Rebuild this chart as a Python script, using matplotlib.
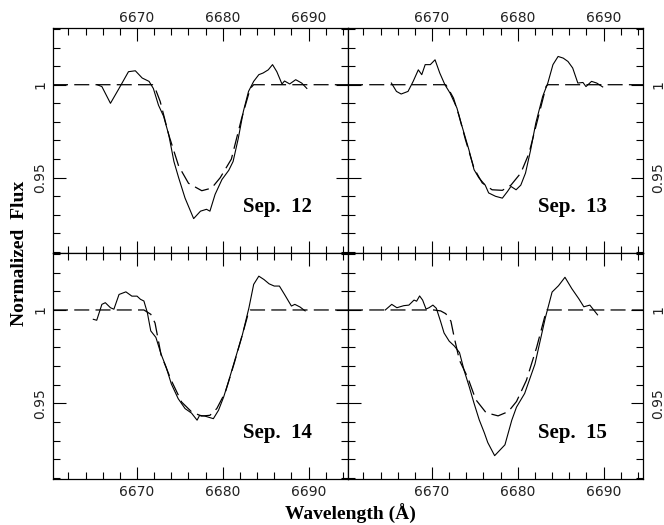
import matplotlib
matplotlib.use('Agg')
import matplotlib.pyplot as plt
from matplotlib.ticker import FixedLocator, MultipleLocator, FuncFormatter

# ---------------- data ----------------
dates = ['Sep.  12', 'Sep.  13', 'Sep.  14', 'Sep.  15']

obs12_w = [6665.35, 6665.9, 6666.9, 6667.9, 6669.0, 6669.8, 6670.6, 6671.4, 6671.9, 6672.5,
           6673.1, 6673.7, 6674.3, 6674.85, 6675.6, 6676.6, 6677.4, 6678.1, 6678.5, 6679.1,
           6679.9, 6680.7, 6681.2, 6681.8, 6682.4, 6683.0, 6683.6, 6684.2, 6684.7, 6685.3,
           6685.8, 6686.3, 6686.9, 6687.2, 6687.8, 6688.5, 6689.2, 6689.8]
obs12_f = [1.000, 0.999, 0.990, 0.998, 1.007, 1.0075, 1.0036, 1.0018, 0.998, 0.989,
           0.983, 0.973, 0.9587, 0.950, 0.939, 0.928, 0.932, 0.933, 0.932, 0.941,
           0.949, 0.954, 0.9587, 0.971, 0.9857, 0.9964, 1.0018, 1.0054, 1.0063, 1.008,
           1.0108, 1.007, 1.0004, 1.002, 1.0004, 1.0027, 1.0009, 0.998]
fit12_w = [6660.2, 6671.8, 6672.2, 6672.7, 6673.7, 6674.85, 6676.0, 6677.55, 6678.7, 6679.7,
           6681.0, 6682.2, 6683.2, 6683.6, 6694.6]
fit12_f = [1.0, 1.0, 0.997, 0.991, 0.973, 0.9563, 0.947, 0.943, 0.9444, 0.950,
           0.960, 0.982, 0.998, 1.0, 1.0]

obs13_w = [6665.26, 6665.85, 6666.4, 6667.2, 6667.8, 6668.4, 6668.8, 6669.2, 6669.8, 6670.35,
           6670.9, 6671.5, 6672.1, 6672.9, 6673.5, 6674.3, 6674.9, 6675.45, 6676.2, 6676.6,
           6677.4, 6678.2, 6678.8, 6679.2, 6679.8, 6680.35, 6680.9, 6681.5, 6682.1, 6682.9,
           6683.5, 6684.1, 6684.7, 6685.3, 6685.85, 6686.4, 6687.0, 6687.6, 6687.95, 6688.6,
           6689.2, 6689.9]
obs13_f = [1.0009, 0.9964, 0.995, 0.9964, 1.0018, 1.008, 1.0054, 1.0108, 1.0108, 1.0134,
           1.0063, 1.000, 0.9955, 0.9875, 0.9776, 0.965, 0.9543, 0.950, 0.946, 0.9418,
           0.940, 0.939, 0.9426, 0.9453, 0.9435, 0.946, 0.9525, 0.965, 0.9794, 0.9937,
           1.0009, 1.0108, 1.0152, 1.0143, 1.0125, 1.009, 1.0009, 1.0012, 0.999, 1.0018,
           1.0009, 0.9988]
fit13_w = [6660.2, 6671.6, 6672.0, 6672.5, 6673.1, 6673.9, 6674.9, 6675.85, 6677.0, 6678.2,
           6679.2, 6680.35, 6681.3, 6682.3, 6683.3, 6683.5, 6694.6]
fit13_f = [1.0, 1.0, 0.997, 0.9928, 0.984, 0.9704, 0.955, 0.9472, 0.9435, 0.9432,
           0.946, 0.9525, 0.963, 0.981, 0.9991, 1.0, 1.0]

obs14_w = [6664.9, 6665.3, 6665.9, 6666.3, 6666.9, 6667.3, 6667.9, 6668.7, 6669.4, 6670.0,
           6670.4, 6670.8, 6671.2, 6671.6, 6672.2, 6672.8, 6673.4, 6674.0, 6674.8, 6675.6,
           6676.35, 6677.0, 6677.3, 6677.9, 6678.9, 6679.5, 6680.1, 6680.7, 6681.5, 6682.3,
           6683.05, 6683.6, 6684.2, 6684.8, 6685.4, 6686.0, 6686.6, 6687.2, 6688.0, 6688.4,
           6689.0, 6689.6]
obs14_f = [0.995, 0.9945, 1.003, 1.0039, 1.0012, 1.0004, 1.0083, 1.0097, 1.0074, 1.0074,
           1.0057, 1.0048, 0.9986, 0.9888, 0.9853, 0.9764, 0.9693, 0.9604, 0.9525, 0.9472,
           0.9448, 0.941, 0.9436, 0.9432, 0.9418, 0.9463, 0.9534, 0.9622, 0.9746, 0.987,
           1.0012, 1.0137, 1.0181, 1.0163, 1.014, 1.0128, 1.0128, 1.0083, 1.0021, 1.003,
           1.0016, 0.9995]
fit14_w = [6660.2, 6670.8, 6671.6, 6672.1, 6672.8, 6674.0, 6675.2, 6676.35, 6677.5, 6678.5,
           6679.3, 6680.3, 6681.3, 6682.3, 6683.05, 6683.2, 6694.6]
fit14_f = [1.0, 1.0, 0.9977, 0.993, 0.976, 0.9622, 0.9507, 0.9455, 0.9432, 0.9436,
           0.9472, 0.956, 0.971, 0.987, 0.9995, 1.0, 1.0]

obs15_w = [6664.55, 6665.3, 6665.9, 6666.7, 6667.3, 6667.9, 6668.2, 6668.55, 6668.9, 6669.3,
           6669.65, 6670.1, 6670.5, 6671.0, 6671.4, 6672.0, 6672.6, 6673.2, 6673.75, 6674.35,
           6674.9, 6675.5, 6676.1, 6676.5, 6677.3, 6678.5, 6679.3, 6679.85, 6680.8, 6682.0,
           6683.2, 6684.0, 6684.75, 6685.5, 6686.3, 6687.1, 6687.7, 6688.4, 6689.3]
obs15_f = [1.0, 1.003, 1.0012, 1.0023, 1.0026, 1.0053, 1.0047, 1.0075, 1.0053, 1.0005,
           1.0012, 1.0026, 1.0009, 0.9938, 0.9877, 0.9833, 0.9807, 0.9772, 0.9675, 0.9587,
           0.950, 0.9412, 0.9342, 0.929, 0.922, 0.9278, 0.941, 0.948, 0.9553, 0.971,
           0.9956, 1.0096, 1.013, 1.0175, 1.0114, 1.0061, 1.0017, 1.0026, 0.9974]
fit15_w = [6660.2, 6670.2, 6671.0, 6671.6, 6672.2, 6672.6, 6673.2, 6674.15, 6675.1, 6676.3,
           6677.7, 6678.9, 6679.85, 6681.0, 6682.2, 6683.2, 6683.4, 6694.6]
fit15_f = [1.0, 1.0, 0.9995, 0.998, 0.994, 0.985, 0.973, 0.964, 0.952, 0.945,
           0.9433, 0.9456, 0.951, 0.9623, 0.98, 0.9974, 1.0, 1.0]

x_major = [6670, 6680, 6690]
y_major = [0.95, 1.0]

# ---------------- figure ----------------
fig = plt.figure(figsize=(6.64, 5.25), dpi=100)

W, H = 664.0, 525.0
def rect(x0, x1, ytop, ybot):
    return [x0 / W, 1 - ybot / H, (x1 - x0) / W, (ybot - ytop) / H]

panels = [
    dict(rect=rect(53, 348, 28, 253), obs=(obs12_w, obs12_f), fit=(fit12_w, fit12_f),
         top=True, left=True),
    dict(rect=rect(348, 643, 28, 253), obs=(obs13_w, obs13_f), fit=(fit13_w, fit13_f),
         top=True, left=False),
    dict(rect=rect(53, 348, 253, 479), obs=(obs14_w, obs14_f), fit=(fit14_w, fit14_f),
         top=False, left=True),
    dict(rect=rect(348, 643, 253, 479), obs=(obs15_w, obs15_f), fit=(fit15_w, fit15_f),
         top=False, left=False),
]

fmt = FuncFormatter(lambda v, p: ('%g' % round(v, 4)))

for p, label in zip(panels, dates):
    ax = fig.add_axes(p['rect'])
    ax.plot(p['fit'][0], p['fit'][1], color='black', lw=0.9, linestyle=(0, (12, 5)))
    ax.plot(p['obs'][0], p['obs'][1], color='black', lw=0.8)
    ax.set_xlim(6660.2, 6694.6)
    ax.set_ylim(0.9095, 1.0305)
    ax.xaxis.set_major_locator(FixedLocator(x_major))
    ax.xaxis.set_minor_locator(MultipleLocator(2))
    ax.yaxis.set_major_locator(FixedLocator(y_major))
    ax.yaxis.set_minor_locator(MultipleLocator(0.01))
    ax.yaxis.set_major_formatter(fmt)
    ax.tick_params(which='both', direction='in', top=True, bottom=True, left=True, right=True,
                   labelsize=10, labelcolor='#222222', width=0.8)
    ax.tick_params(which='major', length=9)
    ax.tick_params(which='minor', length=5)
    ax.tick_params(axis='x', labeltop=p['top'], labelbottom=not p['top'])
    ax.tick_params(axis='x', which='major', pad=2 if p['top'] else 4)
    ax.tick_params(axis='y', labelleft=p['left'], labelright=not p['left'],
                   labelrotation=90, pad=4 if p['left'] else 6)
    for t in ax.get_yticklabels():
        t.set_verticalalignment('center')
    for s in ax.spines.values():
        s.set_linewidth(0.9)
    ax.text(0.645, 0.18, label, transform=ax.transAxes, ha='left', va='baseline',
            fontfamily='Liberation Serif', fontweight='bold', fontsize=15)

fig.text(0.03, 1 - 253 / H, 'Normalized  Flux', rotation=90, ha='center', va='center',
         fontfamily='Liberation Serif', fontweight='bold', fontsize=14)
fig.text(350 / W, 1 - 514 / H, 'Wavelength (Å)', ha='center', va='center',
         fontfamily='Liberation Serif', fontweight='bold', fontsize=14)

fig.savefig('out.png', dpi=100)
